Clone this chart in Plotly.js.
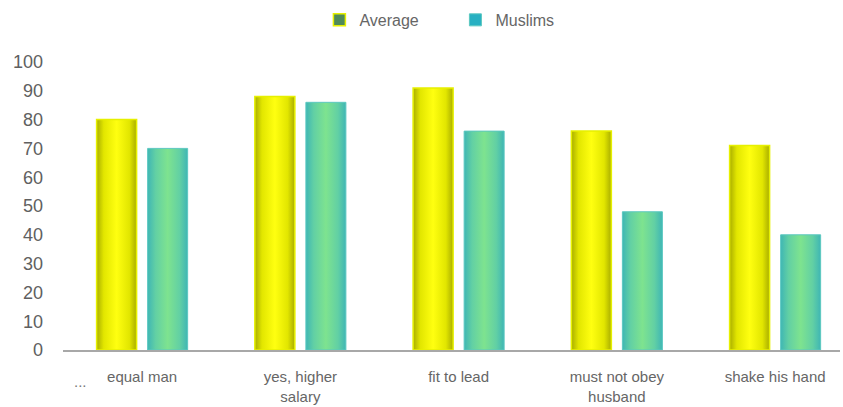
<!DOCTYPE html>
<html>
<head>
<meta charset="utf-8">
<script src="https://cdn.plot.ly/plotly-3.0.1.min.js"></script>
<style>
  html, body { margin: 0; padding: 0; background: #fff; }
  #chart { width: 843px; height: 407px; }
</style>
</head>
<body>
<div id="chart"></div>
<script>
// Survey answers: share agreeing, overall average vs. Muslim respondents
const categories = ["equal man", "yes, higher<br>salary", "fit to lead", "must not obey<br>husband", "shake his hand"];
const averageValues = [80, 88, 91, 76, 71];
const muslimValues = [70, 86, 76, 48, 40];
const yTicks = [0, 10, 20, 30, 40, 50, 60, 70, 80, 90, 100];

const FONT = '"Liberation Sans", Arial, sans-serif';

const traces = [
  {
    type: 'bar', name: 'Average', x: categories, y: averageValues,
    marker: { color: '#4f8a5a', line: { color: '#e6f000', width: 1.5 } },
    hoverinfo: 'y'
  },
  {
    type: 'bar', name: 'Muslims', x: categories, y: muslimValues,
    marker: { color: '#27b0c2', line: { color: '#5cc8c0', width: 1 } },
    hoverinfo: 'y'
  }
];

const layout = {
  width: 843, height: 407,
  margin: { l: 63, r: 3, t: 62, b: 57 },
  paper_bgcolor: '#ffffff', plot_bgcolor: '#ffffff',
  font: { family: FONT, color: '#666' },
  barmode: 'group', bargap: 0.355, bargroupgap: 0.216,
  showlegend: true,
  legend: {
    orientation: 'h', x: 0.330, xanchor: 'left', y: 1.146, yanchor: 'middle',
    font: { size: 16, color: '#666', family: FONT }, itemwidth: 30,
    entrywidth: 91
  },
  xaxis: {
    type: 'category', range: [-0.5, 4.41],
    showgrid: false, zeroline: false,
    showline: true, linecolor: '#a8a8a8', linewidth: 2,
    ticks: '', tickfont: { size: 15, color: '#666', family: FONT },
    ticklabelstandoff: 12,
    fixedrange: true
  },
  yaxis: {
    range: [0, 100], tickvals: yTicks,
    showgrid: false, zeroline: false, showline: false, ticks: '',
    tickfont: { size: 18, color: '#606060', family: FONT },
    ticklabelstandoff: 19,
    fixedrange: true
  },
  annotations: [
    { text: '...', xref: 'paper', yref: 'paper', x: 0.022, y: -0.108,
      xanchor: 'center', yanchor: 'middle', showarrow: false,
      font: { size: 15, color: '#777', family: FONT } }
  ]
};

// Shaded bar faces: darker toward the edges, bright in the middle
function addGradients(gd) {
  const svg = gd.querySelector('svg.main-svg');
  const ns = 'http://www.w3.org/2000/svg';
  let defs = svg.querySelector('defs');
  if (!defs) { defs = document.createElementNS(ns, 'defs'); svg.insertBefore(defs, svg.firstChild); }
  const grads = {
    gradAvg: [['0', '#a9ad00'], ['0.18', '#e2e600'], ['0.5', '#ffff10'], ['0.82', '#e2e600'], ['1', '#a9ad00']],
    gradMus: [['0', '#3fb6b4'], ['0.2', '#62d0a4'], ['0.5', '#7ee38f'], ['0.8', '#62d0a4'], ['1', '#3fb6b4']]
  };
  Object.keys(grads).forEach(function (id) {
    const g = document.createElementNS(ns, 'linearGradient');
    g.setAttribute('id', id);
    g.setAttribute('x1', '0'); g.setAttribute('x2', '1');
    g.setAttribute('y1', '0'); g.setAttribute('y2', '0');
    grads[id].forEach(function (s) {
      const st = document.createElementNS(ns, 'stop');
      st.setAttribute('offset', s[0]);
      st.setAttribute('stop-color', s[1]);
      g.appendChild(st);
    });
    defs.appendChild(g);
  });
  const groups = gd.querySelectorAll('.cartesianlayer .trace.bars');
  groups.forEach(function (grp, i) {
    grp.querySelectorAll('path').forEach(function (p) {
      p.style.fill = 'url(#' + (i === 0 ? 'gradAvg' : 'gradMus') + ')';
    });
  });
}

Plotly.newPlot('chart', traces, layout, { displayModeBar: false, staticPlot: true })
  .then(addGradients);
</script>
</body>
</html>
